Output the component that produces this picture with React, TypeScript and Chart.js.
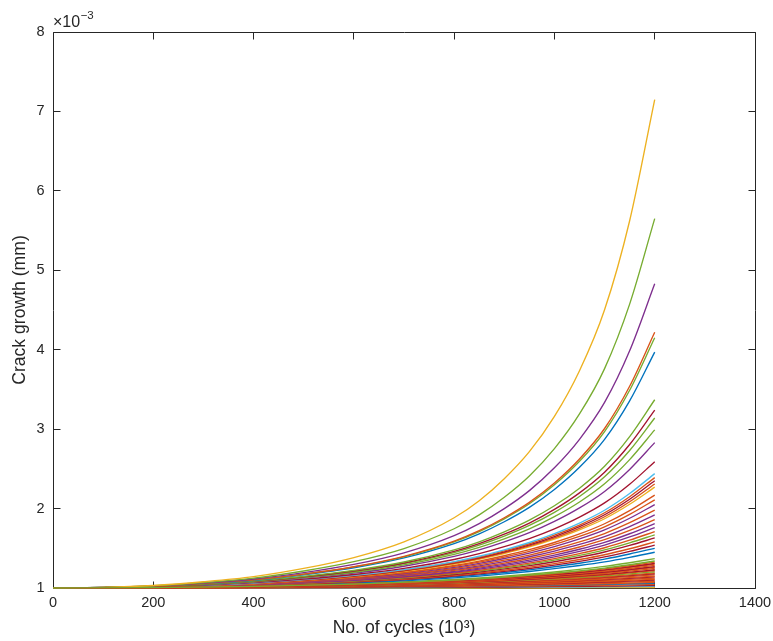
import React, { useEffect, useRef } from 'react';
import { Chart, registerables } from 'chart.js';

Chart.register(...registerables);

// x positions (10^3 cycles) at which the upper curves were read
const cycles = [0, 100, 200, 300, 400, 500, 600, 700, 800, 850, 900, 950, 1000, 1050, 1100, 1150, 1200];
// x positions at which the dense bottom band was read
const bandCycles = [0, 200, 400, 600, 800, 900, 1000, 1100, 1150, 1200];

// Curves that rise clearly above the dense band (crack growth, x10^-3 mm)
const upperCurves: number[][] = [
  [1, 1.008, 1.032, 1.079, 1.143, 1.246, 1.383, 1.581, 1.884, 2.099, 2.376, 2.716, 3.160, 3.736, 4.503, 5.624, 7.15],
  [1, 1.007, 1.028, 1.069, 1.125, 1.214, 1.331, 1.497, 1.746, 1.921, 2.142, 2.410, 2.754, 3.191, 3.762, 4.574, 5.65],
  [1, 1.007, 1.026, 1.062, 1.113, 1.193, 1.297, 1.443, 1.660, 1.811, 1.999, 2.226, 2.513, 2.872, 3.336, 3.986, 4.83],
  [1, 1.006, 1.023, 1.057, 1.103, 1.175, 1.268, 1.399, 1.590, 1.721, 1.884, 2.078, 2.322, 2.624, 3.008, 3.540, 4.22],
  [1, 1.006, 1.023, 1.056, 1.102, 1.173, 1.265, 1.393, 1.581, 1.710, 1.870, 2.060, 2.299, 2.595, 2.970, 3.489, 4.15],
  [1, 1.006, 1.022, 1.055, 1.098, 1.167, 1.255, 1.379, 1.559, 1.682, 1.834, 2.015, 2.240, 2.519, 2.871, 3.356, 3.97],
  [1, 1.005, 1.020, 1.048, 1.086, 1.146, 1.222, 1.327, 1.479, 1.581, 1.707, 1.854, 2.035, 2.257, 2.533, 2.906, 3.37],
  [1, 1.005, 1.019, 1.046, 1.083, 1.141, 1.214, 1.315, 1.460, 1.558, 1.677, 1.817, 1.989, 2.198, 2.458, 2.807, 3.24],
  [1, 1.005, 1.018, 1.045, 1.081, 1.137, 1.208, 1.306, 1.445, 1.539, 1.654, 1.788, 1.953, 2.152, 2.400, 2.731, 3.14],
  [1, 1.005, 1.018, 1.043, 1.077, 1.131, 1.198, 1.291, 1.423, 1.511, 1.619, 1.744, 1.898, 2.083, 2.312, 2.616, 2.99],
  [1, 1.004, 1.017, 1.041, 1.073, 1.124, 1.187, 1.274, 1.398, 1.480, 1.580, 1.696, 1.838, 2.008, 2.216, 2.493, 2.83],
  [1, 1.004, 1.015, 1.037, 1.067, 1.112, 1.170, 1.248, 1.359, 1.432, 1.520, 1.622, 1.745, 1.892, 2.071, 2.306, 2.59],
  [1, 1.004, 1.014, 1.035, 1.063, 1.105, 1.159, 1.231, 1.333, 1.400, 1.481, 1.573, 1.685, 1.818, 1.979, 2.189, 2.44],
  [1, 1.004, 1.014, 1.034, 1.061, 1.103, 1.155, 1.225, 1.324, 1.389, 1.467, 1.557, 1.665, 1.793, 1.947, 2.149, 2.39],
  [1, 1.004, 1.014, 1.033, 1.060, 1.100, 1.151, 1.220, 1.317, 1.380, 1.456, 1.543, 1.648, 1.773, 1.922, 2.117, 2.35],
  [1, 1.004, 1.013, 1.033, 1.059, 1.098, 1.148, 1.215, 1.309, 1.371, 1.445, 1.530, 1.632, 1.752, 1.897, 2.086, 2.31],
  [1, 1.003, 1.013, 1.032, 1.057, 1.096, 1.145, 1.210, 1.302, 1.362, 1.434, 1.517, 1.615, 1.732, 1.872, 2.054, 2.27],
  [1, 1.003, 1.012, 1.030, 1.054, 1.091, 1.136, 1.198, 1.283, 1.339, 1.406, 1.482, 1.573, 1.680, 1.809, 1.974, 2.17],
  [1, 1.003, 1.012, 1.029, 1.052, 1.087, 1.131, 1.190, 1.272, 1.325, 1.389, 1.461, 1.548, 1.649, 1.770, 1.926, 2.11],
  [1, 1.003, 1.012, 1.028, 1.050, 1.084, 1.126, 1.182, 1.260, 1.311, 1.371, 1.440, 1.522, 1.618, 1.732, 1.878, 2.05],
  [1, 1.003, 1.011, 1.027, 1.048, 1.080, 1.119, 1.173, 1.246, 1.294, 1.351, 1.415, 1.491, 1.580, 1.686, 1.822, 1.98],
  [1, 1.003, 1.010, 1.025, 1.045, 1.076, 1.114, 1.164, 1.234, 1.279, 1.332, 1.393, 1.465, 1.548, 1.647, 1.773, 1.92],
  [1, 1.003, 1.010, 1.024, 1.043, 1.072, 1.108, 1.156, 1.221, 1.264, 1.314, 1.371, 1.438, 1.516, 1.608, 1.724, 1.86],
  [1, 1.002, 1.010, 1.023, 1.041, 1.069, 1.103, 1.148, 1.210, 1.251, 1.298, 1.352, 1.415, 1.488, 1.574, 1.683, 1.81],
  [1, 1.002, 1.009, 1.022, 1.039, 1.065, 1.098, 1.141, 1.200, 1.238, 1.282, 1.333, 1.392, 1.461, 1.541, 1.643, 1.76],
  [1, 1.002, 1.009, 1.021, 1.037, 1.062, 1.093, 1.133, 1.189, 1.224, 1.266, 1.313, 1.369, 1.433, 1.507, 1.602, 1.71],
  [1, 1.002, 1.008, 1.020, 1.036, 1.059, 1.088, 1.127, 1.180, 1.213, 1.253, 1.298, 1.350, 1.410, 1.480, 1.569, 1.67],
  [1, 1.002, 1.008, 1.019, 1.034, 1.056, 1.084, 1.121, 1.170, 1.202, 1.240, 1.282, 1.331, 1.387, 1.453, 1.536, 1.63],
  [1, 1.002, 1.007, 1.018, 1.032, 1.053, 1.078, 1.112, 1.159, 1.188, 1.223, 1.262, 1.307, 1.359, 1.419, 1.494, 1.58],
  [1, 1.002, 1.007, 1.017, 1.030, 1.050, 1.074, 1.106, 1.149, 1.177, 1.209, 1.245, 1.287, 1.335, 1.391, 1.461, 1.54],
  [1, 1.002, 1.007, 1.016, 1.028, 1.046, 1.069, 1.099, 1.140, 1.165, 1.195, 1.229, 1.268, 1.312, 1.364, 1.428, 1.50],
  [1, 1.002, 1.006, 1.014, 1.026, 1.042, 1.063, 1.090, 1.127, 1.150, 1.178, 1.208, 1.243, 1.283, 1.329, 1.386, 1.45],
  [1, 1.001, 1.005, 1.012, 1.022, 1.036, 1.053, 1.076, 1.107, 1.126, 1.149, 1.173, 1.202, 1.235, 1.272, 1.318, 1.37],
];

const upperColors = [
  'yellow', 'green', 'purple', 'orange', 'green', 'blue', 'green', 'darkred',
  'green', 'green', 'purple', 'darkred', 'lightblue', 'orange', 'darkred', 'orange',
  'yellow', 'orange', 'orange', 'purple', 'orange', 'purple', 'orange', 'purple',
  'purple', 'orange', 'green', 'darkred', 'orange', 'darkred', 'blue', 'blue', 'green',
];

// Dense band of slowly growing curves near the bottom
const bandCurves: number[][] = [
  [1, 1.005, 1.020, 1.049, 1.099, 1.137, 1.187, 1.251, 1.293, 1.34],
  [1, 1.005, 1.019, 1.048, 1.095, 1.132, 1.179, 1.240, 1.280, 1.325],
  [1, 1.004, 1.019, 1.046, 1.091, 1.126, 1.171, 1.229, 1.268, 1.31],
  [1, 1.004, 1.018, 1.044, 1.088, 1.122, 1.166, 1.222, 1.259, 1.30],
  [1, 1.004, 1.017, 1.042, 1.084, 1.117, 1.158, 1.212, 1.246, 1.285],
  [1, 1.004, 1.016, 1.040, 1.080, 1.111, 1.150, 1.201, 1.233, 1.27],
  [1, 1.004, 1.016, 1.039, 1.077, 1.107, 1.145, 1.193, 1.225, 1.26],
  [1, 1.004, 1.015, 1.037, 1.073, 1.101, 1.137, 1.182, 1.212, 1.245],
  [1, 1.003, 1.014, 1.035, 1.069, 1.095, 1.129, 1.172, 1.199, 1.23],
  [1, 1.003, 1.014, 1.033, 1.066, 1.091, 1.123, 1.164, 1.191, 1.22],
  [1, 1.003, 1.013, 1.031, 1.062, 1.086, 1.115, 1.153, 1.178, 1.205],
  [1, 1.003, 1.012, 1.029, 1.058, 1.080, 1.107, 1.142, 1.165, 1.19],
  [1, 1.003, 1.011, 1.028, 1.055, 1.076, 1.102, 1.135, 1.156, 1.18],
  [1, 1.002, 1.010, 1.026, 1.050, 1.070, 1.093, 1.124, 1.144, 1.165],
  [1, 1.002, 1.010, 1.023, 1.046, 1.063, 1.085, 1.113, 1.131, 1.15],
  [1, 1.002, 1.009, 1.022, 1.043, 1.059, 1.080, 1.105, 1.122, 1.14],
  [1, 1.002, 1.008, 1.020, 1.039, 1.053, 1.071, 1.094, 1.109, 1.125],
  [1, 1.002, 1.007, 1.017, 1.034, 1.047, 1.063, 1.083, 1.096, 1.11],
  [1, 1.002, 1.007, 1.016, 1.031, 1.043, 1.057, 1.076, 1.087, 1.10],
  [1, 1.001, 1.006, 1.014, 1.027, 1.037, 1.049, 1.064, 1.074, 1.085],
  [1, 1.001, 1.005, 1.011, 1.022, 1.030, 1.040, 1.053, 1.061, 1.07],
  [1, 1.001, 1.004, 1.010, 1.019, 1.026, 1.035, 1.046, 1.053, 1.06],
  [1, 1.001, 1.003, 1.007, 1.014, 1.020, 1.026, 1.034, 1.039, 1.045],
  [1, 1.000, 1.002, 1.005, 1.010, 1.013, 1.017, 1.023, 1.026, 1.03],
  [1, 1.000, 1.001, 1.003, 1.006, 1.009, 1.012, 1.015, 1.018, 1.02],
  [1, 1.000, 1.001, 1.002, 1.003, 1.004, 1.006, 1.008, 1.009, 1.01],
  [1, 1.000, 1.000, 1.001, 1.002, 1.002, 1.003, 1.004, 1.004, 1.005],
];

const bandColors = [
  'green', 'orange', 'darkred', 'orange', 'orange', 'darkred', 'orange', 'orange',
  'darkred', 'orange', 'green', 'orange', 'darkred', 'orange', 'orange', 'darkred',
  'orange', 'orange', 'darkred', 'orange', 'orange', 'blue', 'orange', 'darkred',
  'lightblue', 'yellow', 'yellow',
];

const matlabColors: Record<string, string> = {
  blue: '#0072BD',
  orange: '#D95319',
  yellow: '#EDB120',
  purple: '#7E2F8E',
  green: '#77AC30',
  lightblue: '#4DBEEE',
  darkred: '#A2142F',
};

const xTicks = [0, 200, 400, 600, 800, 1000, 1200, 1400];
const yTicks = [1, 2, 3, 4, 5, 6, 7, 8];
const xLabel = 'No. of cycles (10³)';
const yLabel = 'Crack growth (mm)';
const exponentBase = '×10';
const exponentPower = '−3';

const AXIS = '#262626';
const FONT = "'Liberation Sans', Arial, Helvetica, sans-serif";
const TICK_LEN = 7;

const boxPlugin = {
  id: 'matlabBox',
  beforeDatasetsDraw(chart: any) {
    const { ctx, chartArea: a, scales } = chart;
    const crisp = (v: number) => Math.floor(v) + 0.5;
    const L = crisp(a.left), R = crisp(a.right), T = crisp(a.top), B = crisp(a.bottom);
    ctx.save();
    ctx.strokeStyle = AXIS;
    ctx.lineWidth = 1;
    ctx.beginPath();
    ctx.rect(L, T, R - L, B - T);
    for (const v of xTicks) {
      const px = crisp(scales.x.getPixelForValue(v));
      ctx.moveTo(px, B); ctx.lineTo(px, B - TICK_LEN);
      ctx.moveTo(px, T); ctx.lineTo(px, T + TICK_LEN);
    }
    for (const v of yTicks) {
      const py = crisp(scales.y.getPixelForValue(v));
      ctx.moveTo(L, py); ctx.lineTo(L + TICK_LEN, py);
      ctx.moveTo(R, py); ctx.lineTo(R - TICK_LEN, py);
    }
    ctx.stroke();
    ctx.restore();
  },
  afterDraw(chart: any) {
    const { ctx, chartArea: a } = chart;
    ctx.save();
    ctx.fillStyle = AXIS;
    ctx.textAlign = 'left';
    ctx.textBaseline = 'alphabetic';
    ctx.font = `16px ${FONT}`;
    ctx.fillText(exponentBase, a.left, 26.5);
    const w = ctx.measureText(exponentBase).width;
    ctx.font = `11.5px ${FONT}`;
    ctx.fillText(exponentPower, a.left + w + 0.5, 19.3);
    ctx.restore();
  },
};

export default function App() {
  const canvasRef = useRef<HTMLCanvasElement | null>(null);

  useEffect(() => {
    const canvas = canvasRef.current;
    if (!canvas) return;
    const makeSet = (rows: number[][], colors: string[], xs: number[]) =>
      rows.map((row, i) => ({
        data: row.map((y, j) => ({ x: xs[j], y })),
        borderColor: matlabColors[colors[i]],
        backgroundColor: matlabColors[colors[i]],
        borderWidth: 1.35,
        pointRadius: 0,
        fill: false,
        cubicInterpolationMode: 'monotone' as const,
        clip: false as any,
      }));

    const datasets = [
      ...makeSet(bandCurves, bandColors, bandCycles),
      ...makeSet(upperCurves, upperColors, cycles),
    ];

    const chart = new Chart(canvas, {
      type: 'line',
      data: { datasets },
      options: {
        responsive: false,
        animation: false,
        devicePixelRatio: 1,
        layout: { padding: { top: 32, right: 18, bottom: 0, left: 0 } },
        plugins: { legend: { display: false }, tooltip: { enabled: false } },
        scales: {
          x: {
            type: 'linear',
            min: 0,
            max: 1400,
            afterBuildTicks: (s: any) => { s.ticks = xTicks.map((v) => ({ value: v })); },
            afterFit: (s: any) => {
              s.height = 53;
              s.paddingLeft = 0;
              s.paddingRight = 0;
            },
            grid: { display: false, drawTicks: false },
            border: { display: false },
            ticks: {
              color: AXIS,
              font: { family: FONT, size: 14.5 },
              padding: 6,
              maxRotation: 0,
              autoSkip: false,
              callback: (v: any) => String(v),
            },
            title: {
              display: true,
              text: xLabel,
              color: AXIS,
              font: { family: FONT, size: 17.6 },
              padding: { top: 0, bottom: 2.4 },
            },
          },
          y: {
            type: 'linear',
            min: 1,
            max: 8,
            afterBuildTicks: (s: any) => { s.ticks = yTicks.map((v) => ({ value: v })); },
            afterFit: (s: any) => {
              s.width = 53;
              s.paddingTop = 0;
              s.paddingBottom = 0;
            },
            grid: { display: false, drawTicks: false },
            border: { display: false },
            ticks: {
              color: AXIS,
              font: { family: FONT, size: 14.5 },
              padding: 8.5,
              autoSkip: false,
              callback: (v: any) => String(v),
            },
            title: {
              display: true,
              text: yLabel,
              color: AXIS,
              font: { family: FONT, size: 17.6 },
              padding: { top: 9.5, bottom: 0 },
            },
          },
        },
      },
      plugins: [boxPlugin],
    });
    return () => chart.destroy();
  }, []);

  return (
    <div style={{ position: 'absolute', left: 0, top: 0, width: 773, height: 641, background: '#fff' }}>
      <canvas ref={canvasRef} width={773} height={641} style={{ display: 'block' }} />
    </div>
  );
}
